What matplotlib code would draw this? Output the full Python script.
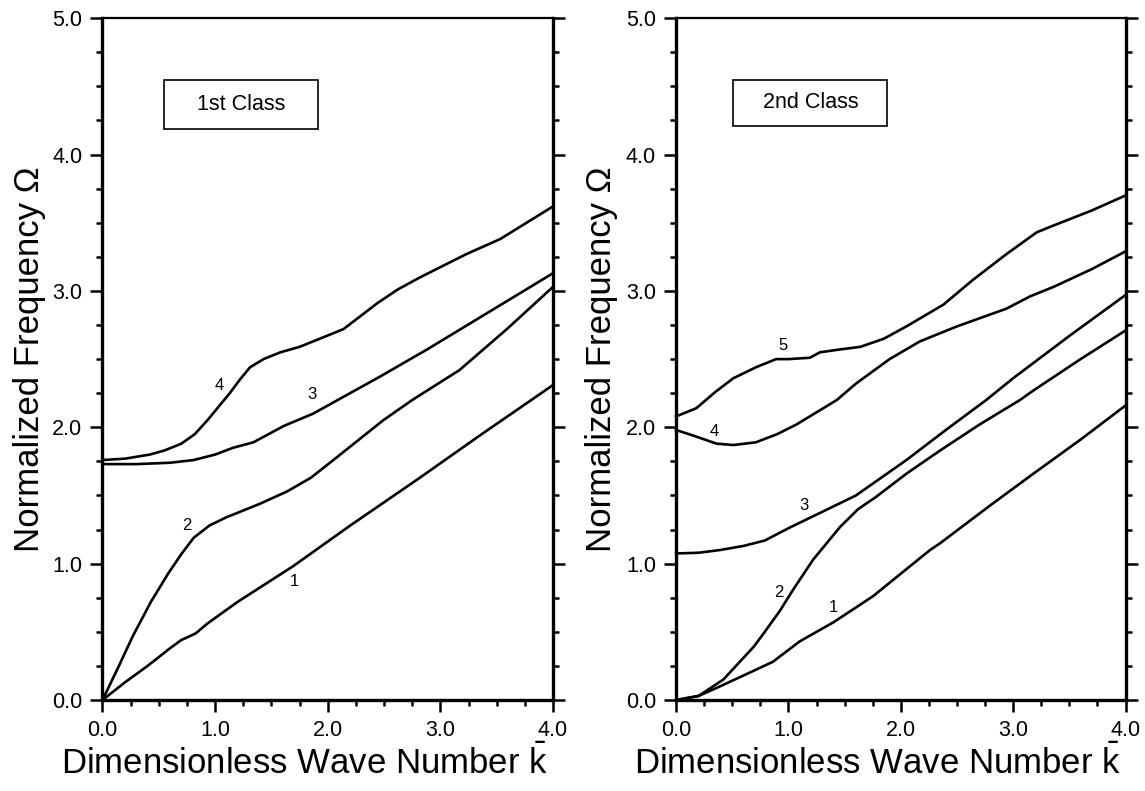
import matplotlib
matplotlib.use("Agg")
import matplotlib.pyplot as plt
from matplotlib.patches import Rectangle
from matplotlib.ticker import MultipleLocator, FormatStrFormatter

plt.rcParams['font.family'] = ['Liberation Sans', 'DejaVu Sans']
plt.rcParams['mathtext.fontset'] = 'custom'
plt.rcParams['mathtext.rm'] = 'Liberation Sans'

# ---- 1st class (left panel) ----
k1L = [0, 0.2, 0.4, 0.6, 0.7, 0.78, 0.83, 0.93, 1.2, 1.69, 2.2, 2.8, 3.35, 4.0]
w1L = [0, 0.13, 0.25, 0.38, 0.44, 0.47, 0.49, 0.56, 0.72, 0.98, 1.28, 1.62, 1.94, 2.31]

k2L = [0, 0.14, 0.27, 0.43, 0.585, 0.7, 0.81, 0.95, 1.10, 1.40, 1.64, 1.85, 2.05, 2.49, 2.75, 3.17, 3.59, 4.0]
w2L = [0, 0.24, 0.47, 0.72, 0.93, 1.07, 1.19, 1.28, 1.34, 1.44, 1.53, 1.63, 1.76, 2.05, 2.20, 2.42, 2.72, 3.03]

k3L = [0, 0.3, 0.6, 0.81, 1.0, 1.16, 1.34, 1.61, 1.87, 2.11, 2.46, 2.88, 3.4, 4.0]
w3L = [1.73, 1.73, 1.74, 1.76, 1.80, 1.85, 1.89, 2.01, 2.10, 2.21, 2.37, 2.57, 2.83, 3.13]

k4L = [0, 0.2, 0.42, 0.55, 0.70, 0.82, 0.93, 1.03, 1.13, 1.22, 1.31, 1.43, 1.58,
       1.75, 1.87, 2.14, 2.44, 2.62, 2.82, 3.23, 3.53, 4.0]
w4L = [1.76, 1.77, 1.80, 1.83, 1.88, 1.95, 2.05, 2.15, 2.25, 2.35, 2.44, 2.50, 2.55,
       2.59, 2.63, 2.72, 2.91, 3.01, 3.10, 3.27, 3.38, 3.62]

# ---- 2nd class (right panel) ----
k1R = [0, 0.2, 0.39, 0.6, 0.86, 1.1, 1.40, 1.75, 2.26, 2.35, 2.8, 3.18, 3.6, 4.0]
w1R = [0, 0.03, 0.10, 0.18, 0.28, 0.43, 0.57, 0.76, 1.10, 1.15, 1.43, 1.66, 1.91, 2.16]

k2R = [0, 0.2, 0.42, 0.6, 0.69, 0.78, 0.92, 1.05, 1.22, 1.46, 1.62, 1.78, 2.05, 2.35,
       2.7, 3.06, 3.18, 3.6, 4.0]
w2R = [0, 0.03, 0.15, 0.31, 0.39, 0.49, 0.65, 0.82, 1.03, 1.27, 1.40, 1.49, 1.66, 1.83,
       2.02, 2.20, 2.27, 2.50, 2.71]

k3R = [0, 0.2, 0.39, 0.6, 0.79, 0.86, 1.0, 1.25, 1.60, 2.05, 2.4, 2.76, 3.0, 3.5, 4.0]
w3R = [1.075, 1.08, 1.10, 1.13, 1.17, 1.20, 1.26, 1.36, 1.50, 1.76, 1.98, 2.20, 2.36, 2.67, 2.97]

k4R = [0, 0.15, 0.36, 0.51, 0.71, 0.9, 1.07, 1.13, 1.43, 1.60, 1.9, 2.17, 2.50, 2.94,
       3.15, 3.36, 3.7, 4.0]
w4R = [1.98, 1.94, 1.88, 1.87, 1.89, 1.95, 2.02, 2.05, 2.20, 2.32, 2.50, 2.63, 2.74, 2.87,
       2.96, 3.03, 3.16, 3.29]

k5R = [0, 0.18, 0.35, 0.51, 0.71, 0.89, 1.0, 1.19, 1.28, 1.45, 1.64, 1.85, 2.05, 2.38,
       2.64, 2.94, 3.21, 3.36, 3.7, 4.0]
w5R = [2.08, 2.14, 2.26, 2.36, 2.44, 2.50, 2.50, 2.51, 2.55, 2.57, 2.59, 2.65, 2.74, 2.90,
       3.08, 3.27, 3.43, 3.48, 3.59, 3.70]

labelsL = ['1', '2', '3', '4']
labelposL = [(1.70, 0.87), (0.75, 1.28), (1.86, 2.24), (1.04, 2.31)]
labelsR = ['1', '2', '3', '4', '5']
labelposR = [(1.40, 0.68), (0.91, 0.79), (1.14, 1.43), (0.34, 1.97), (0.95, 2.60)]

titles = ['1st Class', '2nd Class']
boxes = [(0.55, 4.19, 1.36, 0.36), (0.51, 4.21, 1.37, 0.34)]

fig = plt.figure(figsize=(11.45, 7.91), dpi=100)
axL = fig.add_axes([0.0895, 0.115, 0.3935, 0.862])
axR = fig.add_axes([0.5905, 0.115, 0.3925, 0.862])

panels = [
    (axL, [(k1L, w1L), (k2L, w2L), (k3L, w3L), (k4L, w4L)], labelsL, labelposL),
    (axR, [(k1R, w1R), (k2R, w2R), (k3R, w3R), (k4R, w4R), (k5R, w5R)], labelsR, labelposR),
]

for i, (ax, curves, labs, pos) in enumerate(panels):
    for k, w in curves:
        ax.plot(k, w, color='black', lw=1.9, solid_joinstyle='round', clip_on=False)
    for t, (x, y) in zip(labs, pos):
        ax.text(x, y, t, fontsize=12, ha='center', va='center')

    bx, by, bw, bh = boxes[i]
    ax.add_patch(Rectangle((bx, by), bw, bh, fill=False, lw=1.2, ec='black'))
    ax.text(bx + bw / 2, by + bh / 2, titles[i], fontsize=15.5, ha='center', va='center')

    ax.set_xlim(0, 4.0)
    ax.set_ylim(0, 5.0)
    ax.xaxis.set_major_locator(MultipleLocator(1.0))
    ax.xaxis.set_minor_locator(MultipleLocator(0.25))
    ax.yaxis.set_major_locator(MultipleLocator(1.0))
    ax.yaxis.set_minor_locator(MultipleLocator(0.25))
    ax.xaxis.set_major_formatter(FormatStrFormatter('%.1f'))
    ax.yaxis.set_major_formatter(FormatStrFormatter('%.1f'))
    ax.tick_params(which='both', direction='out', top=False, right=True,
                   labelright=False, width=1.8, labelsize=15.5)
    ax.tick_params(which='major', length=8.5, pad=6)
    ax.tick_params(which='minor', length=4)
    for side in ['left', 'bottom', 'right']:
        ax.spines[side].set_linewidth(2.4)
    ax.spines['top'].set_linewidth(1.6)

    ax.set_xlabel(r'Dimensionless Wave Number $\bar{\mathrm{k}}$', fontsize=25)
    ax.xaxis.set_label_coords(0.448, -0.065)
    ax.set_ylabel('Normalized Frequency Ω', fontsize=25)
    ax.yaxis.set_label_coords(-0.125 if i == 0 else -0.13, 0.5)

fig.savefig('out.png', dpi=100)
